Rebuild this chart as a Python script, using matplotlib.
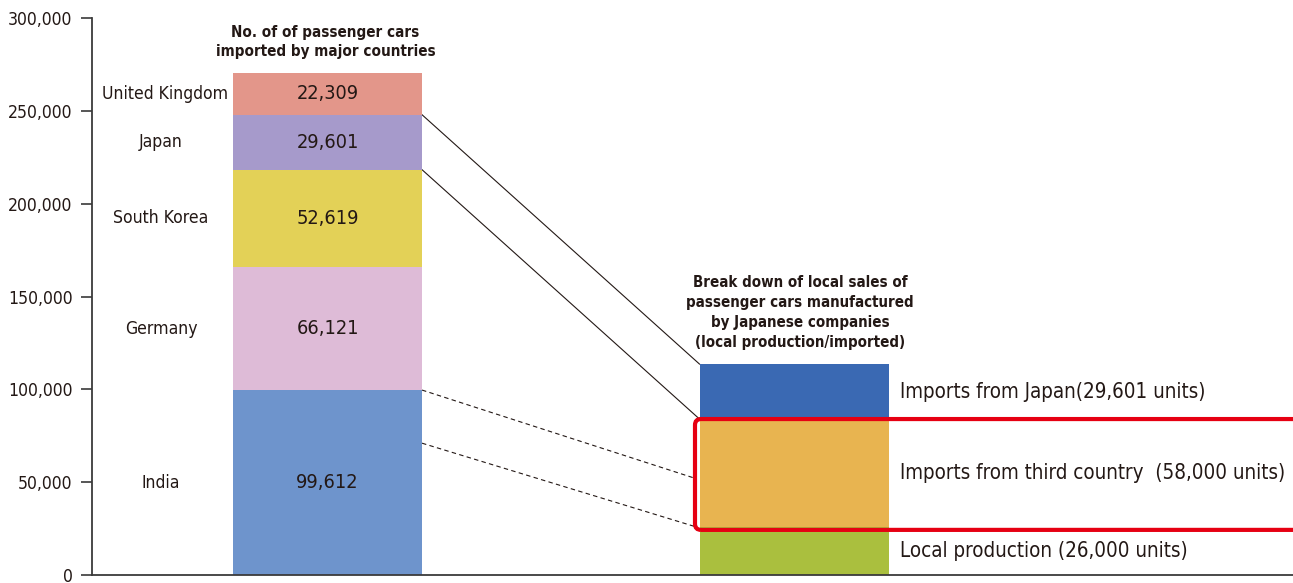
import matplotlib
matplotlib.use("Agg")
import matplotlib.pyplot as plt
from matplotlib.patches import FancyBboxPatch
import numpy as np

# ---- data ----
countries = ["India", "Germany", "South Korea", "Japan", "United Kingdom"]
imports = [99612, 66121, 52619, 29601, 22309]
country_colors = ["#6E94CC", "#DEBBD7", "#E3D157", "#A69ACB", "#E3968A"]

local_labels = ["Local production (26,000 units)",
                "Imports from third country  (58,000 units)",
                "Imports from Japan(29,601 units)"]
local_values = [26000, 58000, 29601]
local_colors = ["#AABF3E", "#E8B450", "#3A69B3"]

# connector lines (left value -> right value)
solid_left = [247910, 218309]
solid_right = [113601, 84000]
dashed_left = [99612, 71000]
dashed_right = [52000, 26000]

left_title = "No. of of passenger cars\nimported by major countries"
right_title = ("Break down of local sales of\npassenger cars manufactured\n"
               "by Japanese companies\n(local production/imported)")
yticks = [0, 50000, 100000, 150000, 200000, 250000, 300000]

# ---- layout ----
TXT = "#231815"
W, H = 1293, 583
fig = plt.figure(figsize=(W / 100, H / 100), dpi=100)
ax = fig.add_axes([92 / W, 8 / H, 1 - 92 / W, (575 - 18) / H])
ax.set_xlim(0, 1201)
ax.set_ylim(0, 300000)
px_per_y = 300000 / 557.0  # data-y units per pixel

x_left, x_right, bw = 235.5, 702.0, 189.0
FS = dict(family="DejaVu Sans", fontstretch="condensed")

# left stacked bar
bottom = 0
for name, val, col in zip(countries, imports, country_colors):
    ax.bar(x_left, val, bw, bottom=bottom, color=col, linewidth=0, zorder=2)
    mid = bottom + val / 2
    ax.text(x_left, mid, f"{val:,}", ha="center", va="center", fontsize=14.3,
            color=TXT, zorder=3, **FS)
    cx = 73 if name == "United Kingdom" else 69
    ax.text(cx, mid, name, ha="center", va="center", fontsize=12.6,
            color=TXT, **FS)
    bottom += val

ax.text(x_left - 2, 287000, left_title, ha="center", va="center", fontsize=10.9,
        fontweight="bold", color=TXT, linespacing=1.3, **FS)

# right stacked bar
bottom = 0
for lab, val, col in zip(local_labels, local_values, local_colors):
    ax.bar(x_right, val, bw, bottom=bottom, color=col, linewidth=0, zorder=2)
    ax.text(808, bottom + val / 2, lab, ha="left", va="center", fontsize=14.8,
            color=TXT, **FS)
    bottom += val

ax.text(x_right + 6, 141600, right_title, ha="center", va="center", fontsize=10.8,
        fontweight="bold", color=TXT, linespacing=1.42, **FS)

# red highlight rectangle (rounded corners)
rect = FancyBboxPatch((x_right - bw / 2 - 4.5, 24300), 800, 84000 - 24300,
                      boxstyle="round,pad=0,rounding_size=6",
                      mutation_aspect=px_per_y, fill=False,
                      edgecolor="#E60012", linewidth=3.0, zorder=4)
ax.add_patch(rect)

# connector lines
xl = x_left + bw / 2
xr = x_right - bw / 2
for a, b in zip(solid_left, solid_right):
    ax.plot([xl, xr], [a, b], color="#231815", linewidth=0.8, zorder=1)
for a, b in zip(dashed_left, dashed_right):
    ax.plot([xl, xr - 4], [a, b], color="#231815", linewidth=0.8,
            linestyle=(0, (4, 3)), zorder=1)

# axes styling
for s in ["top", "right"]:
    ax.spines[s].set_visible(False)
for s in ["left", "bottom"]:
    ax.spines[s].set_color("#3a3a3a")
    ax.spines[s].set_linewidth(1.3)
ax.set_xticks([])
ax.set_yticks(yticks)
ax.set_yticklabels([f"{v:,}" for v in yticks], fontsize=12.6, color=TXT, **FS)
ax.tick_params(axis="y", length=8, width=1.2, color="#3a3a3a", pad=6)

fig.savefig("out.png", dpi=100)
